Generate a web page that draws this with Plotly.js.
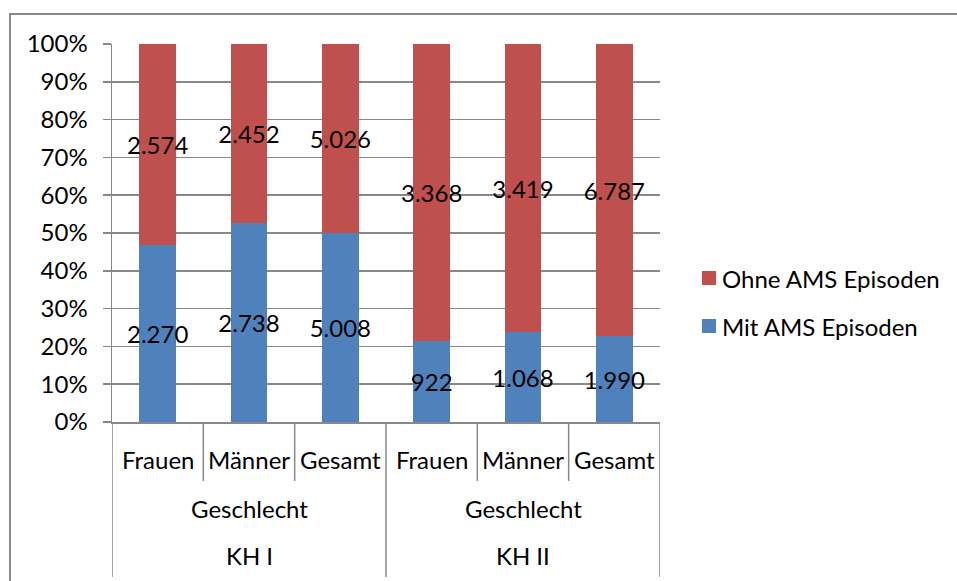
<!DOCTYPE html>
<html>
<head>
<meta charset="utf-8">
<script src="https://cdn.plot.ly/plotly-3.0.1.min.js"></script>
<style>html,body{margin:0;padding:0;background:#fff;}#chart{width:957px;height:581px;}</style>
</head>
<body>
<div id="chart"></div>
<script>
// ---- data ----
const categories = ['Frauen', 'Männer', 'Gesamt', 'Frauen', 'Männer', 'Gesamt'];
const groupLabels = ['Geschlecht', 'Geschlecht'];
const hospitalLabels = ['KH I', 'KH II'];
const seriesNames = ['Mit AMS Episoden', 'Ohne AMS Episoden'];
const mitAMS = [2270, 2738, 5008, 922, 1068, 1990];
const ohneAMS = [2574, 2452, 5026, 3368, 3419, 6787];
const yTickVals = [0, 0.1, 0.2, 0.3, 0.4, 0.5, 0.6, 0.7, 0.8, 0.9, 1.0];

// ---- style ----
const FONT = 'Lato, "Open Sans", sans-serif';
const FS = 24;
const GRID = '#888888';
const colors = ['#4F81BD', '#C0504D'];

function fmt(n) { return String(n).replace(/\B(?=(\d{3})+(?!\d))/g, '.'); }

const xs = categories.map((_, i) => i);
const seriesVals = [mitAMS, ohneAMS];

const traces = seriesVals.map((vals, k) => ({
  type: 'bar',
  name: seriesNames[k],
  x: xs,
  y: vals,
  width: 0.4,
  marker: {color: colors[k], line: {width: 0}},
  text: vals.map(fmt),
  textposition: 'inside',
  insidetextanchor: 'middle',
  constraintext: 'none',
  textangle: 0,
  textfont: {family: FONT, size: FS, color: '#000'},
  cliponaxis: false,
  hoverinfo: 'skip',
  showlegend: false
}));

// plot area pixel geometry helpers
const L = 112, R = 660, T = 44, B = 422, W = 957, H = 581;
const px = x => (x - L) / (R - L);
const py = y => (B - y) / (B - T);

const shapes = [];
// outer chart border
shapes.push({type: 'rect', xref: 'paper', yref: 'paper', x0: px(10), x1: px(1000), y0: py(14), y1: py(640),
  line: {color: GRID, width: 2}, fillcolor: 'rgba(0,0,0,0)', layer: 'below'});
// category separators
const n = categories.length;
for (let i = 0; i <= n; i++) {
  const outer = (i % 3 === 0);
  shapes.push({type: 'line', xref: 'x', yref: 'paper', x0: i - 0.5, x1: i - 0.5,
    y0: 0, y1: outer ? py(577) : py(481), line: {color: GRID, width: 1.5}});
}
// legend swatches
const legendRows = [{k: 1, y: 278}, {k: 0, y: 326}];
legendRows.forEach(r => {
  shapes.push({type: 'rect', xref: 'paper', yref: 'paper', x0: px(702), x1: px(716),
    y0: py(r.y + 7), y1: py(r.y - 7), fillcolor: colors[r.k], line: {width: 0}});
});

const annotations = [];
categories.forEach((c, i) => annotations.push({xref: 'x', yref: 'paper', x: i, y: py(459), text: c,
  showarrow: false, xanchor: 'center', yanchor: 'middle', font: {family: FONT, size: FS, color: '#000'}}));
groupLabels.forEach((g, j) => annotations.push({xref: 'x', yref: 'paper', x: j * 3 + 1, y: py(508), text: g,
  showarrow: false, xanchor: 'center', yanchor: 'middle', font: {family: FONT, size: FS, color: '#000'}}));
hospitalLabels.forEach((h, j) => annotations.push({xref: 'x', yref: 'paper', x: j * 3 + 1, y: py(555), text: h,
  showarrow: false, xanchor: 'center', yanchor: 'middle', font: {family: FONT, size: FS, color: '#000'}}));
legendRows.forEach(r => annotations.push({xref: 'paper', yref: 'paper', x: px(720), y: py(r.y), text: seriesNames[r.k],
  showarrow: false, xanchor: 'left', yanchor: 'middle', font: {family: FONT, size: FS, color: '#000'}}));

const layout = {
  width: W, height: H,
  margin: {l: L, r: W - R, t: T, b: H - B, pad: 0},
  paper_bgcolor: '#fff', plot_bgcolor: '#fff',
  barmode: 'stack', barnorm: 'fraction',
  showlegend: false,
  font: {family: FONT, size: FS, color: '#000'},
  xaxis: {type: 'linear', range: [-0.5, n - 0.5], showticklabels: false, ticks: '', showgrid: false,
    zeroline: false, showline: true, linecolor: GRID, linewidth: 1.5, fixedrange: true},
  yaxis: {range: [0, 1], tickvals: yTickVals, tickformat: '.0%', ticks: 'outside', ticklen: 8,
    tickcolor: GRID, tickwidth: 1.5, showgrid: true, gridcolor: GRID, gridwidth: 1.5,
    zeroline: false, showline: true, linecolor: GRID, linewidth: 1.5, ticklabelstandoff: 10,
    tickfont: {family: FONT, size: FS, color: '#000'}, fixedrange: true},
  shapes: shapes,
  annotations: annotations
};

Plotly.newPlot('chart', traces, layout, {displayModeBar: false, staticPlot: true});
</script>
</body>
</html>
